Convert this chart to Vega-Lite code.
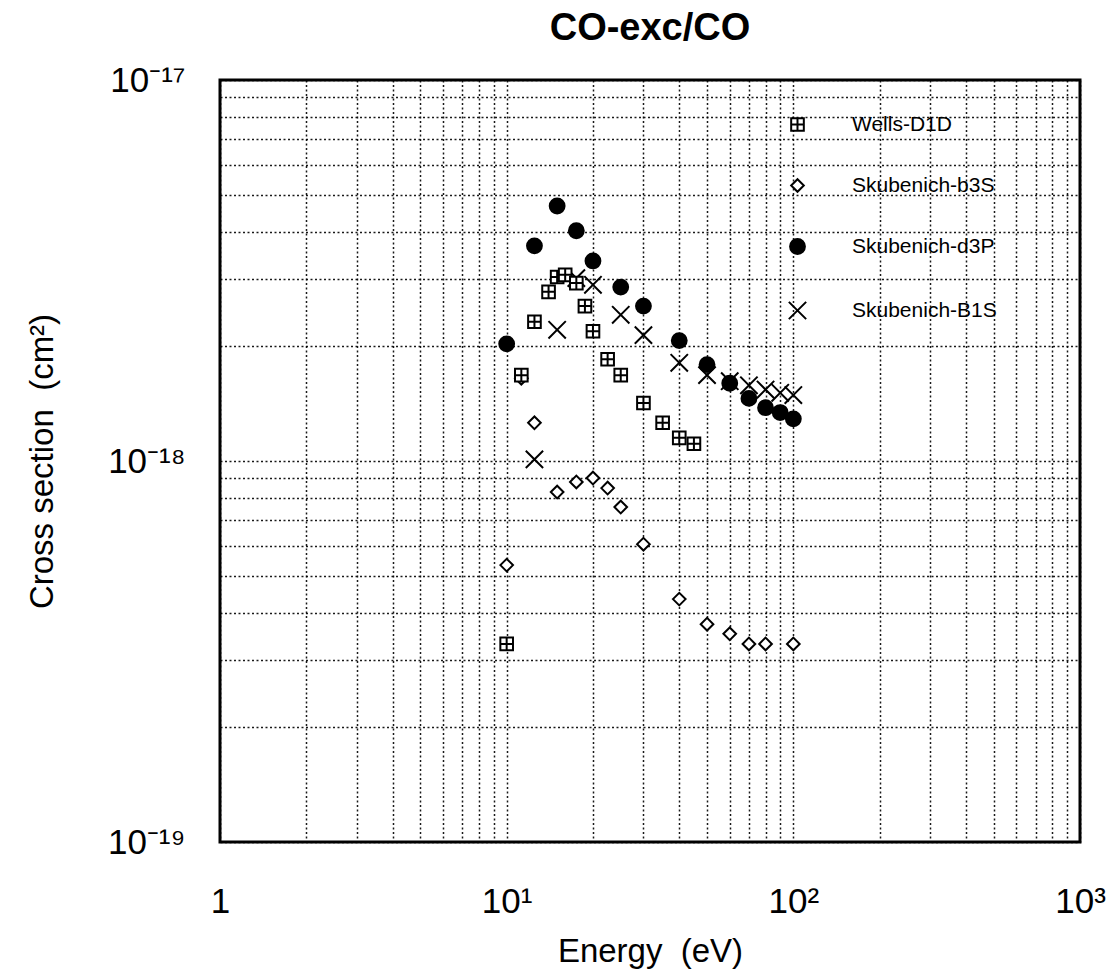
{
  "$schema": "https://vega.github.io/schema/vega-lite/v6.json",
  "width": 860,
  "height": 762,
  "autosize": {"type": "none"},
  "padding": {"left": 220, "top": 80, "right": 33, "bottom": 135},
  "background": "white",
  "title": {"text": "CO-exc/CO", "fontSize": 38, "font": "Liberation Sans", "fontWeight": "bold", "anchor": "middle", "offset": 15, "color": "black"},
  "config": {
    "view": {"stroke": "black", "strokeWidth": 3},
    "axis": {
      "grid": true,
      "gridColor": "black",
      "gridDash": [2, 2.5],
      "gridWidth": 1.5,
      "gridOpacity": 0.9,
      "domain": false,
      "ticks": false,
      "labelFont": "Liberation Sans",
      "labelFontSize": 35,
      "labelColor": "black",
      "labelOverlap": false,
      "labelFlush": false,
      "titleFont": "Liberation Sans",
      "titleFontSize": 33,
      "titleFontWeight": "normal",
      "titleColor": "black"
    }
  },
  "data": {
    "values": [
      {"series": "Skubenich-b3S", "energy": 10, "cs": 5.33e-19},
      {"series": "Skubenich-b3S", "energy": 11.25, "cs": 1.65e-18},
      {"series": "Skubenich-b3S", "energy": 12.5, "cs": 1.26e-18},
      {"series": "Skubenich-b3S", "energy": 15, "cs": 8.29e-19},
      {"series": "Skubenich-b3S", "energy": 17.5, "cs": 8.81e-19},
      {"series": "Skubenich-b3S", "energy": 20, "cs": 9.02e-19},
      {"series": "Skubenich-b3S", "energy": 22.5, "cs": 8.49e-19},
      {"series": "Skubenich-b3S", "energy": 25, "cs": 7.57e-19},
      {"series": "Skubenich-b3S", "energy": 30, "cs": 6.05e-19},
      {"series": "Skubenich-b3S", "energy": 40, "cs": 4.34e-19},
      {"series": "Skubenich-b3S", "energy": 50, "cs": 3.73e-19},
      {"series": "Skubenich-b3S", "energy": 60, "cs": 3.52e-19},
      {"series": "Skubenich-b3S", "energy": 70, "cs": 3.31e-19},
      {"series": "Skubenich-b3S", "energy": 80, "cs": 3.31e-19},
      {"series": "Skubenich-b3S", "energy": 100, "cs": 3.31e-19},
      {"series": "Skubenich-B1S", "energy": 12.5, "cs": 1.01e-18},
      {"series": "Skubenich-B1S", "energy": 15, "cs": 2.21e-18},
      {"series": "Skubenich-B1S", "energy": 17.5, "cs": 3.02e-18},
      {"series": "Skubenich-B1S", "energy": 20, "cs": 2.9e-18},
      {"series": "Skubenich-B1S", "energy": 25, "cs": 2.42e-18},
      {"series": "Skubenich-B1S", "energy": 30, "cs": 2.14e-18},
      {"series": "Skubenich-B1S", "energy": 40, "cs": 1.81e-18},
      {"series": "Skubenich-B1S", "energy": 50, "cs": 1.68e-18},
      {"series": "Skubenich-B1S", "energy": 60, "cs": 1.62e-18},
      {"series": "Skubenich-B1S", "energy": 70, "cs": 1.58e-18},
      {"series": "Skubenich-B1S", "energy": 80, "cs": 1.54e-18},
      {"series": "Skubenich-B1S", "energy": 90, "cs": 1.51e-18},
      {"series": "Skubenich-B1S", "energy": 100, "cs": 1.49e-18},
      {"series": "Skubenich-d3P", "energy": 10, "cs": 2.03e-18},
      {"series": "Skubenich-d3P", "energy": 12.5, "cs": 3.67e-18},
      {"series": "Skubenich-d3P", "energy": 15, "cs": 4.67e-18},
      {"series": "Skubenich-d3P", "energy": 17.5, "cs": 4.02e-18},
      {"series": "Skubenich-d3P", "energy": 20, "cs": 3.35e-18},
      {"series": "Skubenich-d3P", "energy": 25, "cs": 2.86e-18},
      {"series": "Skubenich-d3P", "energy": 30, "cs": 2.55e-18},
      {"series": "Skubenich-d3P", "energy": 40, "cs": 2.07e-18},
      {"series": "Skubenich-d3P", "energy": 50, "cs": 1.79e-18},
      {"series": "Skubenich-d3P", "energy": 60, "cs": 1.6e-18},
      {"series": "Skubenich-d3P", "energy": 70, "cs": 1.46e-18},
      {"series": "Skubenich-d3P", "energy": 80, "cs": 1.38e-18},
      {"series": "Skubenich-d3P", "energy": 90, "cs": 1.34e-18},
      {"series": "Skubenich-d3P", "energy": 100, "cs": 1.29e-18},
      {"series": "Wells-D1D", "energy": 10, "cs": 3.31e-19},
      {"series": "Wells-D1D", "energy": 11.25, "cs": 1.68e-18},
      {"series": "Wells-D1D", "energy": 12.5, "cs": 2.32e-18},
      {"series": "Wells-D1D", "energy": 14, "cs": 2.78e-18},
      {"series": "Wells-D1D", "energy": 15, "cs": 3.04e-18},
      {"series": "Wells-D1D", "energy": 16, "cs": 3.08e-18},
      {"series": "Wells-D1D", "energy": 17.5, "cs": 2.93e-18},
      {"series": "Wells-D1D", "energy": 18.75, "cs": 2.55e-18},
      {"series": "Wells-D1D", "energy": 20, "cs": 2.19e-18},
      {"series": "Wells-D1D", "energy": 22.5, "cs": 1.85e-18},
      {"series": "Wells-D1D", "energy": 25, "cs": 1.68e-18},
      {"series": "Wells-D1D", "energy": 30, "cs": 1.42e-18},
      {"series": "Wells-D1D", "energy": 35, "cs": 1.26e-18},
      {"series": "Wells-D1D", "energy": 40, "cs": 1.15e-18},
      {"series": "Wells-D1D", "energy": 45, "cs": 1.11e-18}
    ]
  },
  "mark": {"type": "point", "stroke": "black", "strokeWidth": 2, "opacity": 1},
  "encoding": {
    "x": {
      "field": "energy",
      "type": "quantitative",
      "scale": {"type": "log", "domain": [1, 1000], "nice": false},
      "axis": {
        "title": "Energy\u00a0\u00a0(eV)",
        "values": [1, 2, 3, 4, 5, 6, 7, 8, 9, 10, 20, 30, 40, 50, 60, 70, 80, 90, 100, 200, 300, 400, 500, 600, 700, 800, 900, 1000],
        "labelExpr": "datum.value == 1 ? '1' : datum.value == 10 ? '10¹' : datum.value == 100 ? '10²' : datum.value == 1000 ? '10³' : ''",
        "labelPadding": 42,
        "titlePadding": 16
      }
    },
    "y": {
      "field": "cs",
      "type": "quantitative",
      "scale": {"type": "log", "domain": [1e-19, 1e-17], "nice": false},
      "axis": {
        "title": "Cross section\u00a0\u00a0(cm²)",
        "values": [1e-19, 2e-19, 3e-19, 4e-19, 5e-19, 6e-19, 7e-19, 8e-19, 9e-19, 1e-18, 2e-18, 3e-18, 4e-18, 5e-18, 6e-18, 7e-18, 8e-18, 9e-18, 1e-17],
        "labelExpr": "abs(datum.value / 1e-17 - 1) < 1e-6 ? '10⁻¹⁷' : abs(datum.value / 1e-18 - 1) < 1e-6 ? '10⁻¹⁸' : abs(datum.value / 1e-19 - 1) < 1e-6 ? '10⁻¹⁹' : ''",
        "labelPadding": 35,
        "titlePadding": 48
      }
    },
    "shape": {
      "field": "series",
      "type": "nominal",
      "scale": {
        "domain": ["Wells-D1D", "Skubenich-b3S", "Skubenich-d3P", "Skubenich-B1S"],
        "range": ["M-1,-1H1V1H-1Z M-1,0H1 M0,-1V1", "diamond", "circle", "M-1,-1L1,1 M-1,1L1,-1"]
      },
      "legend": {"title": null}
    },
    "size": {
      "field": "series",
      "type": "nominal",
      "scale": {
        "type": "ordinal",
        "domain": ["Wells-D1D", "Skubenich-b3S", "Skubenich-d3P", "Skubenich-B1S"],
        "range": [160, 160, 220, 300]
      },
      "legend": {"title": null}
    },
    "fill": {
      "field": "series",
      "type": "nominal",
      "scale": {
        "domain": ["Wells-D1D", "Skubenich-b3S", "Skubenich-d3P", "Skubenich-B1S"],
        "range": ["white", "white", "black", "transparent"]
      },
      "legend": {
        "title": null,
        "orient": "none",
        "legendX": 567,
        "legendY": 34,
        "rowPadding": 39,
        "labelFont": "Liberation Sans",
        "labelFontSize": 21,
        "labelColor": "black",
        "labelOffset": 44,
        "symbolStrokeColor": "black",
        "symbolStrokeWidth": 2
      }
    }
  }
}
